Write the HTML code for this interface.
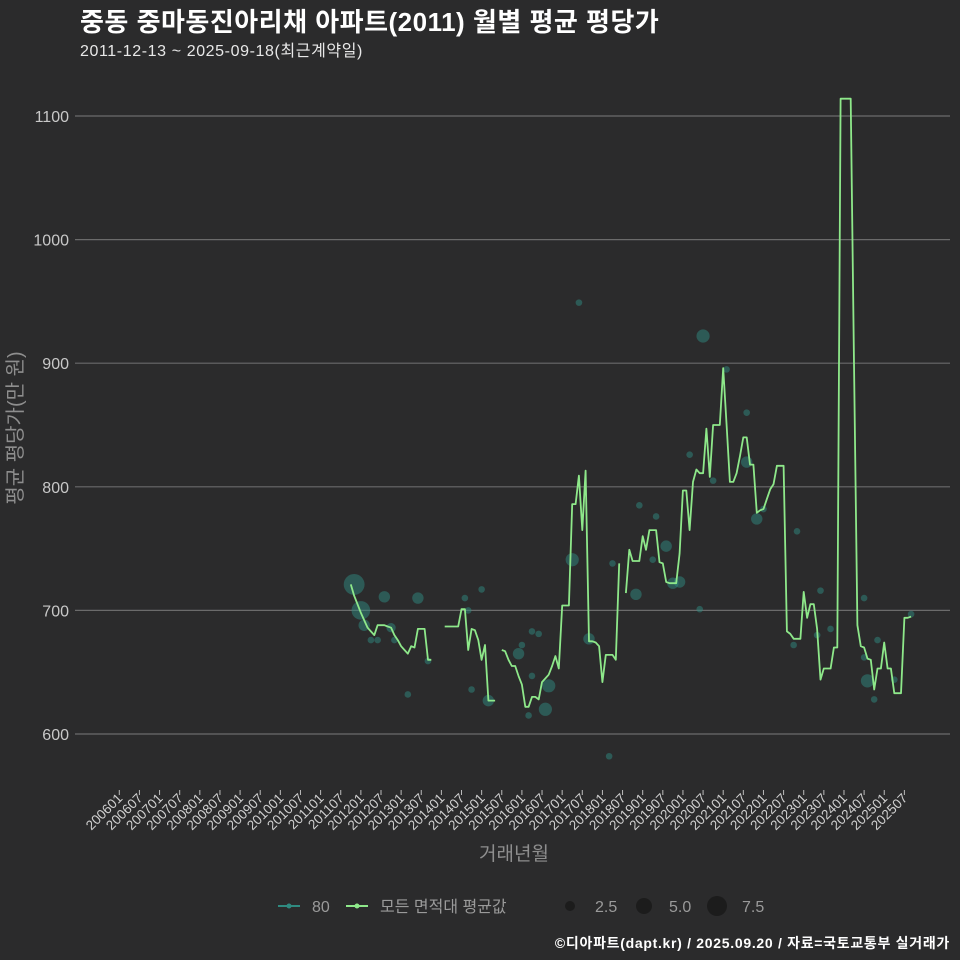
<!DOCTYPE html>
<html><head><meta charset="utf-8">
<style>
html,body{margin:0;padding:0;background:#2b2b2c;}
#wrap{position:relative;width:960px;height:960px;background:#2b2b2c;font-family:"Liberation Sans","Noto Sans CJK KR",sans-serif;overflow:hidden;}
.t{position:absolute;white-space:nowrap;}
</style></head>
<body>
<div id="wrap">
<div class="t" style="left:80px;top:2px;font-size:26px;font-weight:bold;color:#fff;letter-spacing:0.5px;">중동 중마동진아리채 아파트(2011) 월별 평균 평당가</div>
<div class="t" style="left:80px;top:37px;font-size:16px;color:#e8e8e8;letter-spacing:0.6px;">2011-12-13 ~ 2025-09-18(최근계약일)</div>
<svg id="chart" width="960" height="960" style="position:absolute;left:0;top:0"></svg>
<div class="t" style="right:10px;top:933px;font-size:14px;font-weight:bold;color:#fff;letter-spacing:0.7px;">©디아파트(dapt.kr) / 2025.09.20 / 자료=국토교통부 실거래가</div>
</div>
<script>
// ---- data ----
const tickLabels = ["200601","200607","200701","200707","200801","200807","200901","200907","201001","201007","201101","201107","201201","201207","201301","201307","201401","201407","201501","201507","201601","201607","201701","201707","201801","201807","201901","201907","202001","202007","202101","202107","202201","202207","202301","202307","202401","202407","202501","202507"];
const yTicks = [600,700,800,900,1000,1100];
const lineStart = "201110";
const lineValues = [721,712,705,698,692,686,683,680,688,688,688,687,686,680,676,671,668,665,671,670,685,685,685,660,660,
null,null,null,
687,687,687,687,687,701,701,668,685,684,676,660,672,627,627,627,
null,
668,667,660,655,655,647,640,622,622,630,630,628,642,645,648,655,663,653,704,704,704,786,786,809,765,813,675,675,674,671,642,664,664,664,660,738,
null,
714,749,740,740,740,760,749,765,765,765,739,738,723,722,722,722,746,797,797,765,804,814,811,811,847,808,850,850,850,896,850,804,804,811,825,840,840,818,818,779,781,782,790,798,802,817,817,817,683,681,677,677,677,715,694,705,705,685,644,653,653,653,670,670,1114,1114,1114,1114,900,688,671,670,661,660,636,653,653,674,653,653,633,633,633,694,694,695];
const bubbleMonths = ["201111","201201","201202","201208","201204","201206","201210","201211","201303","201306","201309","201409","201501","201410","201408","201503","201512","201601","201603","201604","201608","201609","201606","201604","201704","201706","201709","201803","201804","201811","201812","201904","201905","201908","201910","201912","202003","202006","202007","202010","202102","202108","202108","202111","202201","202211","202210","202305","202306","202309","202407","202407","202408","202410","202411","202504","202509"];
const bubbleValues = [721,700,688,711,676,676,686,676,632,710,659,700,717,636,710,627,665,672,615,683,620,639,681,647,741,949,677,582,738,713,785,741,776,752,722,723,826,701,922,805,895,820,860,774,782,764,672,680,716,685,710,662,643,628,676,644,697];
const bubbleCounts = [10,8,3,3,1,1,2,1,1,3,1,1,1,1,1,3,3,1,1,1,4,4,1,1,4,1,3,1,1,3,1,1,1,3,3,3,1,1,4,1,1,3,1,3,1,1,1,1,1,1,1,1,4,1,1,1,1];

// ---- scales ----
const X0=119.3, XPM=3.355;
function monthIdx(s){return (parseInt(s.slice(0,4))-2006)*12+parseInt(s.slice(4))-1;}
function xs(m){return X0+m*XPM;}
function ys(v){return 734-(v-600)*1.236;}
const NS="http://www.w3.org/2000/svg";
const svg=document.getElementById('chart');
function mk(tag,attrs){const e=document.createElementNS(NS,tag);for(const k in attrs)e.setAttribute(k,attrs[k]);svg.appendChild(e);return e;}

// grid + y labels
yTicks.forEach(v=>{
  const g=mk('line',{x1:75,x2:950,y1:ys(v),y2:ys(v),stroke:'#6b6b6b','stroke-width':1.2});
  
  
  const t=mk('text',{x:69,y:ys(v)+6,'text-anchor':'end','font-size':16,fill:'#c8c8c8','font-family':'Liberation Sans, sans-serif'});
  t.textContent=v;
  
  
});
// x ticks
tickLabels.forEach(s=>{
  const x=xs(monthIdx(s));
  const tk=mk('line',{x1:x,x2:x,y1:790,y2:795,stroke:'#bbb','stroke-width':1});
  
  
  const t=mk('text',{x:x+4,y:799,'text-anchor':'end','font-size':13.5,fill:'#d0d0d0','font-family':'Liberation Sans, sans-serif',transform:`rotate(-45 ${x+4} 799)`});
  t.textContent=s;
  
  
});
// axis titles
let at=mk('text',{x:514,y:860,'text-anchor':'middle','font-size':19,fill:'#8e8e8e','font-family':'Liberation Sans, Noto Sans CJK KR, sans-serif'});
at.textContent='거래년월';


at=mk('text',{x:22,y:428,'text-anchor':'middle','font-size':20,fill:'#8e8e8e','font-family':'Liberation Sans, Noto Sans CJK KR, sans-serif',transform:'rotate(-90 22 428)'});
at.textContent='평균 평당가(만 원)';



// bubbles
bubbleMonths.forEach((s,i)=>{
  const c=mk('circle',{cx:xs(monthIdx(s)),cy:ys(bubbleValues[i]),r:3.3*Math.sqrt(bubbleCounts[i]),fill:'#2f8a80','fill-opacity':0.5});
  
  
});
// line
const m0=monthIdx(lineStart);
let d='',pen=false;
lineValues.forEach((v,i)=>{
  if(v===null){pen=false;return;}
  d+=(pen?'L':'M')+xs(m0+i).toFixed(1)+','+ys(v).toFixed(1);pen=true;
});
const ln=mk('path',{d:d,fill:'none',stroke:'#8ee88a','stroke-width':1.8,'stroke-linejoin':'round'});



// legend
function legLine(x,color,name,label){
  const l=mk('line',{x1:x,x2:x+22,y1:906,y2:906,stroke:color,'stroke-width':2});
  
  
  const c=mk('circle',{cx:x+11,cy:906,r:2.5,fill:color});
  
  
  const t=mk('text',{x:x+34,y:912,'font-size':16,fill:'#9a9a9a','font-family':'Liberation Sans, Noto Sans CJK KR, sans-serif'});
  t.textContent=label;
  
  
}
legLine(278,'#2f8a80','legend-80','80');
legLine(346,'#8ee88a','legend-average','모든 면적대 평균값');
[[570,2.5,5],[644,5.0,8],[717,7.5,10]].forEach(([x,v,r])=>{
  const c=mk('circle',{cx:x,cy:906,r:r,fill:'#1c1c1c'});
  
  
  const t=mk('text',{x:x+25,y:912,'font-size':16,fill:'#9a9a9a','font-family':'Liberation Sans, sans-serif'});
  t.textContent=v.toFixed(1);
  
  
});
</script>
</body></html>
